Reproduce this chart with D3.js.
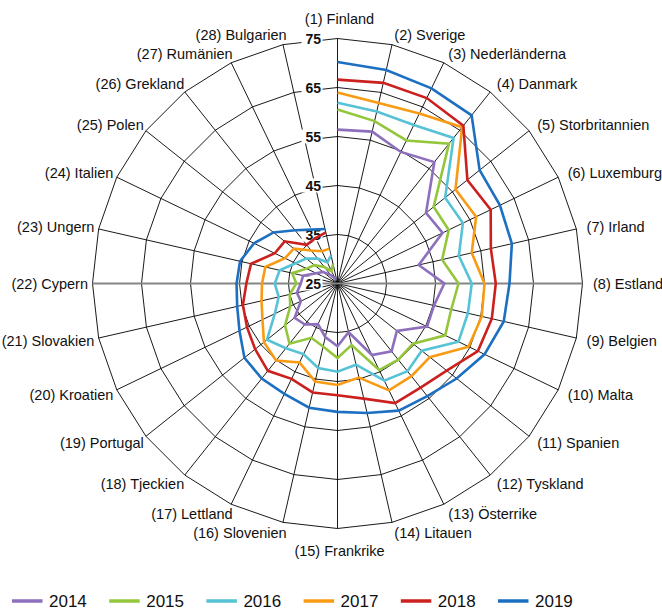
<!DOCTYPE html>
<html>
<head>
<meta charset="utf-8">
<script src="https://cdn.jsdelivr.net/npm/d3@7"></script>
<style>
  html, body { margin: 0; padding: 0; background: #ffffff; }
  svg { display: block; }
</style>
</head>
<body>
<svg id="chart" width="662" height="610"></svg>
<script>
// Countries, in the order they run clockwise from the top
const categories = [
  "(1) Finland", "(2) Sverige", "(3) Nederländerna", "(4) Danmark",
  "(5) Storbritannien", "(6) Luxemburg", "(7) Irland", "(8) Estland",
  "(9) Belgien", "(10) Malta", "(11) Spanien", "(12) Tyskland",
  "(13) Österrike", "(14) Litauen", "(15) Frankrike", "(16) Slovenien",
  "(17) Lettland", "(18) Tjeckien", "(19) Portugal", "(20) Kroatien",
  "(21) Slovakien", "(22) Cypern", "(23) Ungern", "(24) Italien",
  "(25) Polen", "(26) Grekland", "(27) Rumänien", "(28) Bulgarien"
];

const years = ["2014", "2015", "2016", "2017", "2018", "2019"];

const values2014 = [56.4, 56.8, 54.8, 56.7, 48.1, 48.8, 42.0, 46.8, 45.2, 45.3, 40.5, 42.7, 41.2, 35.2,
                    37.8, 36.2, 34.2, 35.7, 36.2, 33.3, 33.5, 32.5, 32.2, 29.8, 28.8, 27.2, 26.0, 25.8];
const values2015 = [60.5, 59.0, 57.4, 61.5, 50.1, 50.2, 46.9, 49.7, 48.8, 49.4, 44.7, 44.9, 44.6, 37.9,
                    40.2, 38.2, 37.3, 40.7, 38.7, 35.7, 35.0, 33.4, 34.5, 32.0, 31.0, 29.3, 27.8, 29.1];
const values2016 = [61.9, 61.0, 60.9, 63.0, 53.1, 53.4, 50.4, 52.4, 52.3, 52.4, 47.0, 47.9, 47.0, 42.0,
                    43.0, 42.7, 41.0, 41.9, 43.4, 39.2, 37.3, 37.8, 37.1, 34.5, 33.2, 31.5, 29.8, 30.9];
const values2017 = [64.0, 62.8, 63.5, 65.8, 55.8, 56.4, 53.1, 55.0, 55.2, 54.7, 49.1, 49.2, 49.2, 44.7,
                    45.7, 45.5, 42.9, 45.1, 44.2, 42.0, 40.9, 40.4, 40.1, 36.9, 36.4, 33.6, 32.3, 32.3];
const values2018 = [66.6, 67.0, 67.0, 66.2, 58.9, 59.7, 57.1, 57.3, 57.3, 56.8, 53.5, 52.2, 52.1, 49.1,
                    47.8, 47.8, 46.6, 47.8, 46.5, 45.5, 44.8, 43.6, 43.1, 39.2, 38.8, 35.1, 35.3, 35.7];
const values2019 = [70.2, 69.7, 69.2, 68.9, 62.1, 61.8, 61.5, 60.1, 59.8, 58.3, 56.1, 54.4, 53.8, 52.1,
                    51.2, 51.0, 50.0, 49.8, 49.3, 47.2, 46.0, 45.6, 45.4, 43.9, 41.7, 38.9, 37.2, 36.4];

const tickValues = [25, 35, 45, 55, 65, 75];

const seriesColors = ["#8d6fbd", "#94c63c", "#56c2d6", "#f99b12", "#cb201e", "#1c6fc1"];

const series = years.map((y, k) => ({
  year: y,
  values: [values2014, values2015, values2016, values2017, values2018, values2019][k],
  color: seriesColors[k]
}));

// ---- geometry ----
const svg = d3.select("#chart");
const cx = 337.5, cy = 283.5;
const outerR = 245;
const n = categories.length;

const r = d3.scaleLinear().domain([25, 75]).range([0, outerR]);
const angle = d3.scaleLinear().domain([0, n]).range([0, 2 * Math.PI]);

const g = svg.append("g").attr("transform", `translate(${cx},${cy})`);

// ---- grid: polygon rings ----
const ringLine = d3.lineRadial()
  .angle((d, i) => angle(i))
  .radius(d => r(d))
  .curve(d3.curveLinearClosed);

const gridG = g.append("g").attr("class", "grid");
tickValues.filter(t => t > 25).forEach(t => {
  gridG.append("path")
    .attr("d", ringLine(d3.range(n).map(() => t)))
    .attr("fill", "none")
    .attr("stroke", "#000")
    .attr("stroke-width", 0.9);
});

// spokes
gridG.selectAll("line.spoke")
  .data(d3.range(n))
  .join("line")
  .attr("class", "spoke")
  .attr("x1", 0).attr("y1", 0)
  .attr("x2", i => r(75) * Math.sin(angle(i)))
  .attr("y2", i => -r(75) * Math.cos(angle(i)))
  .attr("stroke", "#000")
  .attr("stroke-width", 0.9);

// horizontal category axis line (Cypern – Estland)
const iEast = 7, iWest = 21;
gridG.append("line")
  .attr("x1", r(75) * Math.sin(angle(iWest)))
  .attr("y1", 0)
  .attr("x2", r(75) * Math.sin(angle(iEast)))
  .attr("y2", 0)
  .attr("stroke", "#858585")
  .attr("stroke-width", 2);

// ---- value axis labels (along the top spoke) ----
const tickG = g.append("g").attr("class", "value-ticks");
tickValues.forEach(t => {
  const y = -r(t);
  tickG.append("rect")
    .attr("x", -36).attr("y", y - 7)
    .attr("width", 21).attr("height", 14)
    .attr("fill", "#fff");
  tickG.append("text")
    .attr("x", -16.5).attr("y", y)
    .attr("dy", "0.36em")
    .attr("text-anchor", "end")
    .attr("font-family", "'Liberation Sans', Arial, sans-serif")
    .attr("font-weight", "bold")
    .attr("font-size", 14)
    .attr("fill", "#111")
    .text(t);
});

// ---- category labels ----
const labelG = g.append("g").attr("class", "cat-labels")
  .attr("font-family", "'Liberation Sans', Arial, sans-serif")
  .attr("font-size", 14.5)
  .attr("fill", "#111");

categories.forEach((c, i) => {
  const a = angle(i);
  const s = Math.sin(a), co = Math.cos(a);
  const tx = r(75) * s, ty = -r(75) * co;
  let x, y, anchor;
  if (Math.abs(s) < 0.01) {
    anchor = "middle";
    x = tx + 2;
    y = co > 0 ? ty - 19.5 : ty + 22;
  } else if (s > 0) {
    anchor = "start";
    x = tx + 10.5 * s;
    y = ty - 10.5 * co + 0.5;
  } else {
    anchor = "end";
    x = tx + 10.5 * s + 6;
    y = ty - 10.5 * co + 0.5;
  }
  labelG.append("text")
    .attr("x", x).attr("y", y)
    .attr("dy", "0.35em")
    .attr("text-anchor", anchor)
    .text(c);
});

// ---- series lines (open paths, Finland → Bulgarien) ----
const seriesLine = d3.lineRadial()
  .angle((d, i) => angle(i))
  .radius(d => r(d));

g.append("g").attr("class", "series")
  .selectAll("path")
  .data(series)
  .join("path")
  .attr("d", d => seriesLine(d.values))
  .attr("fill", "none")
  .attr("stroke", d => d.color)
  .attr("stroke-width", 2.6)
  .attr("stroke-linejoin", "miter");

// ---- legend ----
const legend = svg.append("g").attr("class", "legend")
  .attr("font-family", "'Liberation Sans', Arial, sans-serif")
  .attr("font-size", 17)
  .attr("fill", "#111");

const legendX = d3.scaleLinear().domain([0, 1]).range([12, 109.2]);
series.forEach((s, k) => {
  const x0 = legendX(k);
  legend.append("line")
    .attr("x1", x0).attr("x2", x0 + 30.5)
    .attr("y1", 601).attr("y2", 601)
    .attr("stroke", s.color)
    .attr("stroke-width", 3.5);
  legend.append("text")
    .attr("x", x0 + 37).attr("y", 601)
    .attr("dy", "0.36em")
    .text(s.year);
});
</script>
</body>
</html>
